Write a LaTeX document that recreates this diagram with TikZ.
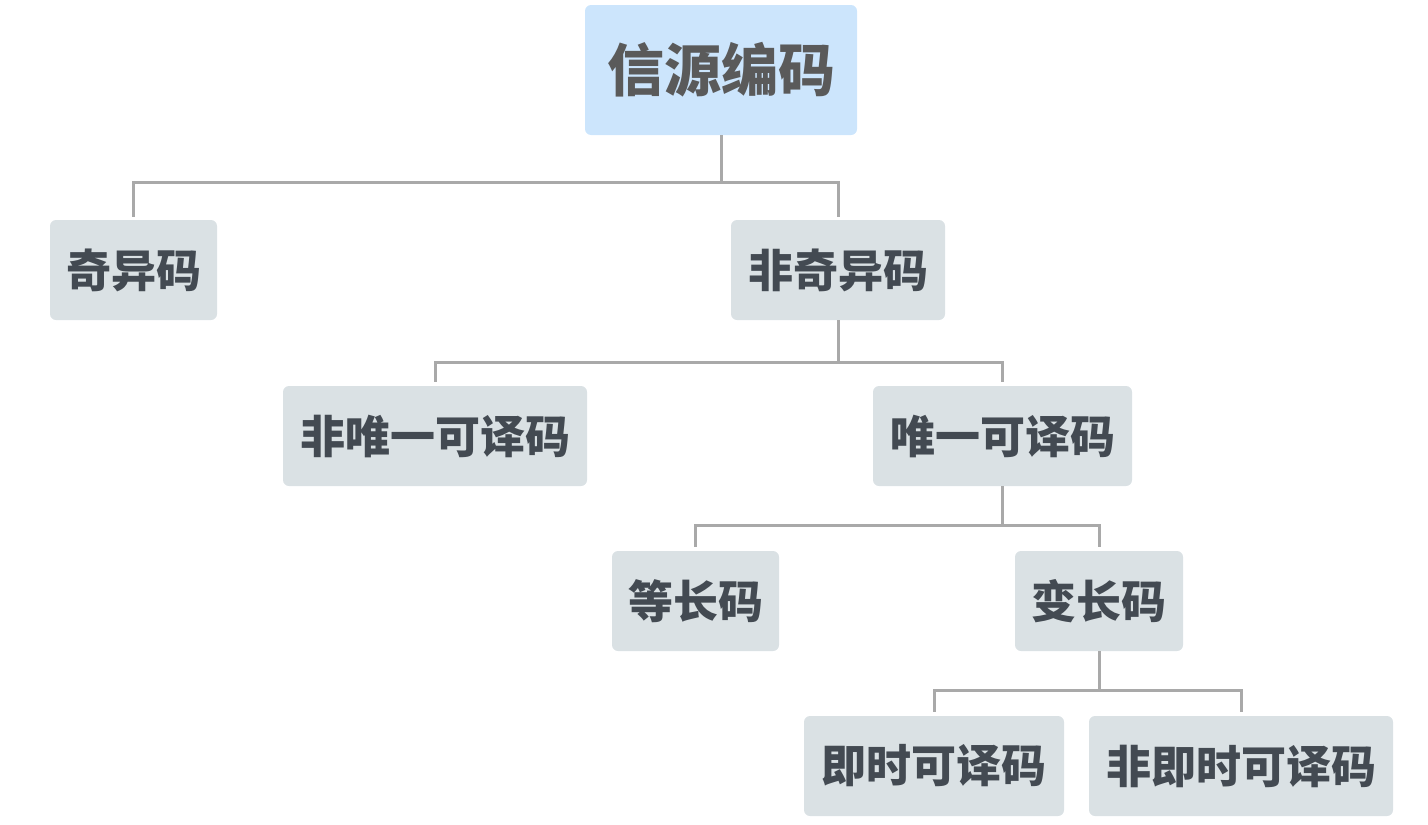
\documentclass[tikz,border=0pt]{standalone}
\usepackage{fontspec}
\newfontfamily\cjk{Noto Sans CJK SC}
\definecolor{rootfill}{HTML}{CCE5FC}
\definecolor{boxfill}{HTML}{DAE1E4}
\definecolor{roottext}{HTML}{5A5A5A}
\definecolor{boxtext}{HTML}{434A52}
\definecolor{linkgray}{HTML}{A9A9A9}
\tikzset{
  rootbox/.style={fill=rootfill, rounded corners=6pt, minimum width=272pt, minimum height=130pt,
    font=\cjk\bfseries\fontsize{57}{60}\selectfont, text=roottext, inner sep=0pt},
  codebox/.style={fill=boxfill, rounded corners=6pt, minimum height=100pt,
    font=\cjk\bfseries\fontsize{45}{48}\selectfont, text=boxtext, inner sep=0pt},
  link/.style={draw=linkgray, line width=3pt}
}
\begin{document}
\begin{tikzpicture}[x=1pt, y=-1pt]
\useasboundingbox (0,0) rectangle (1428,825);

% nodes
\node[rootbox] (src) at (721,70) {信源编码};
\node[codebox, minimum width=167pt] (sing) at (133.5,270) {奇异码};
\node[codebox, minimum width=214pt] (nonsing) at (838,270) {非奇异码};
\node[codebox, minimum width=304pt] (nonud) at (435,436) {非唯一可译码};
\node[codebox, minimum width=259pt] (ud) at (1002.5,436) {唯一可译码};
\node[codebox, minimum width=167pt] (fixed) at (695.5,601) {等长码};
\node[codebox, minimum width=168pt] (var) at (1099,601) {变长码};
\node[codebox, minimum width=260pt] (inst) at (934,766) {即时可译码};
\node[codebox, minimum width=304pt] (noninst) at (1241,766) {非即时可译码};

% connectors
\draw[link] (src.south) -- (src.south |- 0,182) -| ([yshift=3pt]sing.north);
\draw[link] (src.south |- 0,182) -| ([yshift=3pt]nonsing.north);

\draw[link] (nonsing.south) -- (nonsing.south |- 0,362) -| ([yshift=4pt]nonud.north);
\draw[link] (nonsing.south |- 0,362) -| ([yshift=4pt]ud.north);

\draw[link] (ud.south) -- (ud.south |- 0,525) -| ([yshift=4pt]fixed.north);
\draw[link] (ud.south |- 0,525) -| ([yshift=4pt]var.north);

\draw[link] (var.south) -- (var.south |- 0,690) -| ([yshift=4pt]inst.north);
\draw[link] (var.south |- 0,690) -| ([yshift=4pt]noninst.north);

\end{tikzpicture}
\end{document}
